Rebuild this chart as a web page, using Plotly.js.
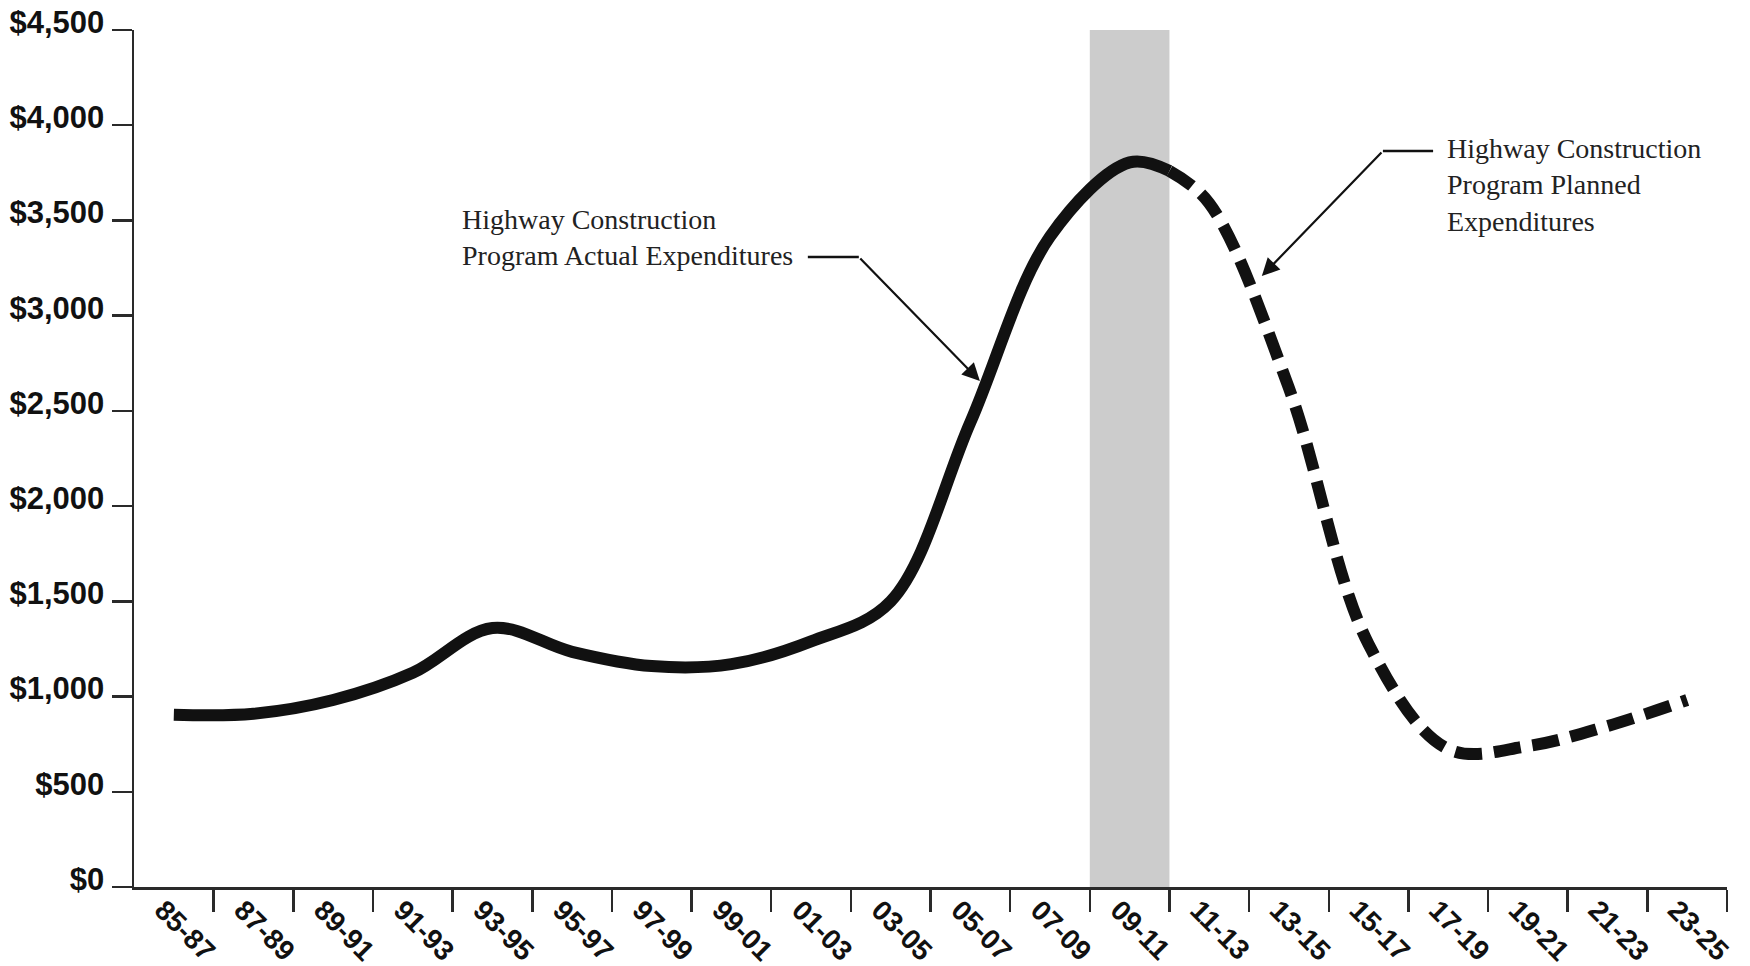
<!DOCTYPE html>
<html>
<head>
<meta charset="utf-8">
<script src="https://cdn.plot.ly/plotly-3.0.1.min.js"></script>
<style>
  html, body { margin: 0; padding: 0; background: #ffffff; }
  #chart { width: 1750px; height: 966px; }
</style>
</head>
<body>
<div id="chart"></div>
<script>
// ---- Data ($ millions) ----
const periods = ['85-87','87-89','89-91','91-93','93-95','95-97','97-99','99-01','01-03','03-05',
                 '05-07','07-09','09-11','11-13','13-15','15-17','17-19','19-21','21-23','23-25'];

// Actual expenditures: biennium index (12.5 = end of the 09-11 biennium)
const actualPeriodIndex = [0, 1, 2, 3, 4, 5, 6, 7, 8, 9, 10, 11, 12, 12.5];
const actualValues      = [905, 910, 982, 1125, 1360, 1235, 1160, 1170, 1290, 1500, 2440, 3415, 3805, 3760];

// Planned expenditures
const plannedPeriodIndex = [12.5, 13, 14, 15, 16, 17, 18, 19];
const plannedValues      = [3760, 3590, 2620, 1275, 725, 740, 845, 982];

const highlightedPeriod = '09-11';

const yTickValues = [0, 500, 1000, 1500, 2000, 2500, 3000, 3500, 4000, 4500];
const yTickLabels = ['$0', '$500', '$1,000', '$1,500', '$2,000', '$2,500', '$3,000', '$3,500', '$4,000', '$4,500'];

const actualLabel  = 'Highway Construction<br>Program Actual Expenditures';
const plannedLabel = 'Highway Construction<br>Program Planned<br>Expenditures';

// ---- Derived helpers ----
const centers = periods.map((p, i) => i);
const boundaries = periods.map((p, i) => i + 0.5);
const hiIdx = periods.indexOf(highlightedPeriod);

const yTickFont = { family: 'Liberation Sans, Arial, Helvetica, sans-serif', size: 31, weight: 'bold', color: '#111111' };
const xTickFont = { family: 'Liberation Sans, Arial, Helvetica, sans-serif', size: 28, weight: 'bold', color: '#111111' };
const noteFont = { family: 'Liberation Serif, Times New Roman, serif', size: 28, color: '#222222' };
const axisColor = '#2a2a2a';

const traces = [
  {
    x: actualPeriodIndex, y: actualValues, type: 'scatter', mode: 'lines',
    line: { color: '#111111', width: 12, shape: 'spline', smoothing: 1 },
    hoverinfo: 'skip', showlegend: false
  },
  {
    x: plannedPeriodIndex, y: plannedValues, type: 'scatter', mode: 'lines',
    line: { color: '#111111', width: 12, shape: 'spline', smoothing: 1, dash: '27px,12px' },
    hoverinfo: 'skip', showlegend: false
  },
  {
    x: centers, y: centers.map(() => null), xaxis: 'x2', yaxis: 'y',
    type: 'scatter', mode: 'lines', hoverinfo: 'skip', showlegend: false
  }
];

const layout = {
  width: 1750, height: 966,
  margin: { l: 134, r: 23, t: 30, b: 79, pad: 0 },
  paper_bgcolor: '#ffffff', plot_bgcolor: '#ffffff',
  showlegend: false,
  xaxis: {
    type: 'linear', range: [-0.5, periods.length - 0.5],
    tickmode: 'array', tickvals: boundaries, showticklabels: false,
    ticks: 'outside', ticklen: 22, tickwidth: 2.5, tickcolor: axisColor,
    showline: true, linecolor: axisColor, linewidth: 2.5,
    showgrid: false, zeroline: false, fixedrange: true
  },
  xaxis2: {
    type: 'linear', overlaying: 'x', anchor: 'y', side: 'bottom',
    range: [-0.5, periods.length - 0.5],
    tickmode: 'array', tickvals: centers, ticktext: periods, tickangle: 45,
    ticks: '', showline: false, showgrid: false, zeroline: false,
    tickfont: xTickFont, ticklabelstandoff: 0, ticklabelshift: -11, fixedrange: true
  },
  yaxis: {
    range: [0, 4500], tickmode: 'array', tickvals: yTickValues, ticktext: yTickLabels,
    ticks: 'outside', ticklen: 20, tickwidth: 2.5, tickcolor: axisColor,
    showline: true, linecolor: axisColor, linewidth: 2.5,
    showgrid: false, zeroline: false, tickfont: yTickFont,
    ticklabelstandoff: 1, ticklabelshift: -8, fixedrange: true
  },
  shapes: [
    { type: 'rect', xref: 'x', yref: 'y', x0: hiIdx - 0.5, x1: hiIdx + 0.5, y0: 0, y1: 4500,
      fillcolor: '#cccccc', line: { width: 0 }, layer: 'below' },
    { type: 'line', xref: 'x', yref: 'y', x0: 7.96, x1: 8.60, y0: 3308, y1: 3308,
      line: { color: '#111111', width: 2.5 } },
    { type: 'line', xref: 'x', yref: 'y', x0: 15.81, x1: 15.18, y0: 3865, y1: 3865,
      line: { color: '#111111', width: 2.5 } }
  ],
  annotations: [
    { xref: 'x', yref: 'y', x: 3.59, y: 3413, xanchor: 'left', yanchor: 'middle', align: 'left',
      text: actualLabel, showarrow: false, font: noteFont },
    { xref: 'x', yref: 'y', x: 15.96, y: 3686, xanchor: 'left', yanchor: 'middle', align: 'left',
      text: plannedLabel, showarrow: false, font: noteFont },
    { xref: 'x', yref: 'y', x: 10.12, y: 2657, axref: 'x', ayref: 'y', ax: 8.60, ay: 3308,
      text: '', showarrow: true, arrowhead: 2, arrowsize: 1.6, arrowwidth: 2.2, arrowcolor: '#111111', standoff: 0 },
    { xref: 'x', yref: 'y', x: 13.66, y: 3208, axref: 'x', ayref: 'y', ax: 15.18, ay: 3865,
      text: '', showarrow: true, arrowhead: 2, arrowsize: 1.6, arrowwidth: 2.2, arrowcolor: '#111111', standoff: 0 }
  ]
};

Plotly.newPlot('chart', traces, layout, { staticPlot: true, displayModeBar: false });
</script>
</body>
</html>
